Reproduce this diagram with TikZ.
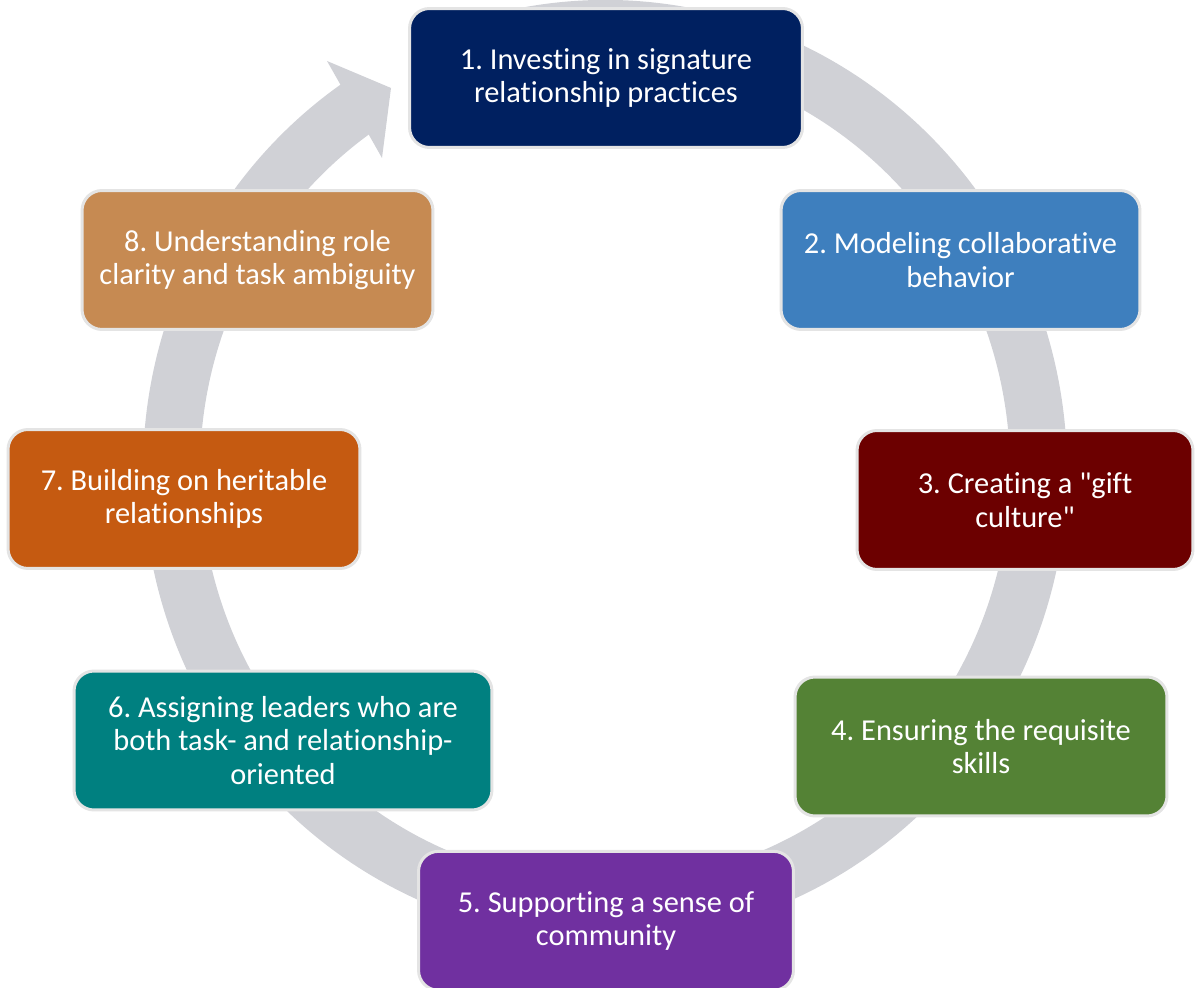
\documentclass[tikz,border=0pt]{standalone}
\usepackage{fontspec}
\setmainfont{Carlito}[Ligatures={TeXOff,CommonOff}]
\frenchspacing
\usetikzlibrary{positioning}
\definecolor{ringgray}{HTML}{D0D1D6}
\definecolor{boxrim}{HTML}{E4E4E4}
\definecolor{cnavy}{HTML}{002060}
\definecolor{cblue}{HTML}{3E7FBE}
\definecolor{cmaroon}{HTML}{6C0000}
\definecolor{cgreen}{HTML}{548235}
\definecolor{cpurple}{HTML}{7030A0}
\definecolor{cteal}{HTML}{008080}
\definecolor{corange}{HTML}{C55A11}
\definecolor{ctan}{HTML}{C68A52}
\tikzstyle{phase} = [rectangle, rounded corners=0.4cm, minimum height=2.78cm, align=center, text=white, draw=boxrim, line width=0.06cm, font=\fontsize{17.3}{19}\selectfont]
\tikzstyle{ring} = [draw=ringgray, line width=1.14cm]

\begin{document}
\begin{tikzpicture}[x=0.02cm, y=0.02cm]
\useasboundingbox (0,0) rectangle (1195,987);

%% RING

\coordinate (hub) at (605,517);
\draw [ring] (hub) ++(100:433.5 and 441.5) arc [start angle=100, end angle=-236, x radius=433.5, y radius=441.5];
\coordinate (barbtop) at (327,926);
\coordinate (tip) at (391,899);
\coordinate (barbbot) at (382,829);
\fill [ringgray] (barbtop) -- (tip) -- (barbbot) -- cycle;

%% NODES

\node (s1) [phase, fill=cnavy, minimum width=7.86cm] at (606,909) {1. Investing in signature\\relationship practices};
\node (s2) [phase, fill=cblue, minimum width=7.18cm] at (960.5,727) {2. Modeling collaborative\\behavior};
\node (s3) [phase, fill=cmaroon, minimum width=6.72cm] at (1025,487) {3. Creating a "gift\\culture"};
\node (s4) [phase, fill=cgreen, minimum width=7.44cm] at (981,240.5) {4. Ensuring the requisite\\skills};
\node (s5) [phase, fill=cpurple, minimum width=7.5cm, below of=s1, node distance=16.86cm] {5. Supporting a sense of\\community};
\node (s6) [phase, fill=cteal, minimum width=8.36cm] at (283,246.5) {6. Assigning leaders who are\\both task- and relationship-\\oriented};
\node (s7) [phase, fill=corange, minimum width=7.04cm] at (184,488) {7. Building on heritable\\relationships};
\node (s8) [phase, fill=ctan, minimum width=7.02cm] at (257.5,727) {8. Understanding role\\clarity and task ambiguity};

\end{tikzpicture}
\end{document}
